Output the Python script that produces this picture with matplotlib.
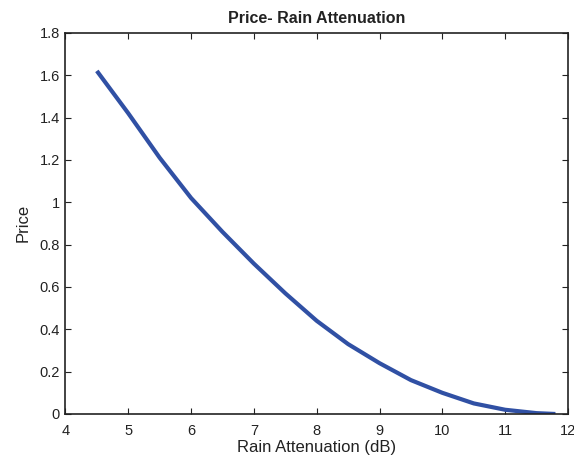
import matplotlib
matplotlib.use("Agg")
import matplotlib.pyplot as plt

plt.rcParams['font.family'] = ['Liberation Sans', 'DejaVu Sans']

rain_att = [4.5, 5.0, 5.5, 6.0, 6.5, 7.0, 7.5, 8.0, 8.5, 9.0, 9.5, 10.0, 10.5, 11.0, 11.5, 11.8]
price = [1.62, 1.42, 1.21, 1.02, 0.86, 0.71, 0.57, 0.44, 0.33, 0.24, 0.16, 0.10, 0.05, 0.02, 0.004, 0.0]

xticks = [4, 5, 6, 7, 8, 9, 10, 11, 12]
yticks = [0, 0.2, 0.4, 0.6, 0.8, 1.0, 1.2, 1.4, 1.6, 1.8]
ytick_labels = ['0', '0.2', '0.4', '0.6', '0.8', '1', '1.2', '1.4', '1.6', '1.8']

fig = plt.figure(figsize=(5.74, 4.66), dpi=100)
ax = fig.add_axes([0.114, 0.1116, 0.8755, 0.818])
ax.plot(rain_att, price, color='#3050a4', linewidth=3.0, solid_capstyle='butt')
ax.set_xlim(4, 12)
ax.set_ylim(0, 1.8)
ax.set_xticks(xticks)
ax.set_xticklabels([str(t) for t in xticks])
ax.set_yticks(yticks)
ax.set_yticklabels(ytick_labels)
ax.tick_params(direction='in', top=True, right=True, length=4, width=0.8,
               labelsize=10.5, colors='#222222')
ax.tick_params(axis='x', pad=7)
ax.tick_params(axis='y', pad=4)
for s in ax.spines.values():
    s.set_color('#222222')
    s.set_linewidth(1.2)
ax.set_title('Price- Rain Attenuation', fontsize=11.5, fontweight='bold', pad=7,
             color='#222222')
ax.set_xlabel('Rain Attenuation (dB)', fontsize=12, labelpad=2, color='#222222')
ax.set_ylabel('Price', fontsize=12, labelpad=6.5, color='#222222')
fig.savefig('out.png', dpi=100)
